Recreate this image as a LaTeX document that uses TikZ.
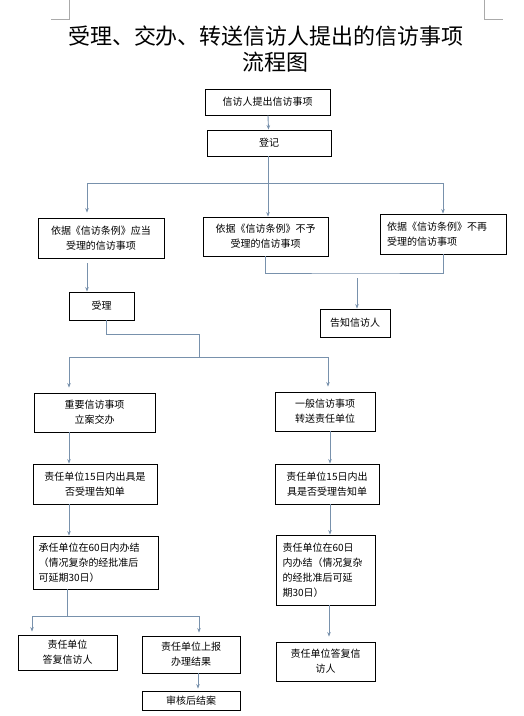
\documentclass[tikz,border=0pt]{standalone}
\usepackage{fontspec}
\usepackage{tikz}
\usetikzlibrary{arrows.meta,positioning}
\newfontfamily\cjk{Noto Sans CJK SC}
\definecolor{flowline}{RGB}{120,145,172}
\definecolor{cropgray}{RGB}{170,170,170}

\begin{document}
\begin{tikzpicture}[
    x=1pt, y=-1pt,
    box/.style={draw, line width=0.9pt, inner sep=2pt, font=\cjk\fontsize{10}{15}\selectfont, align=center},
    lbox/.style={box, align=left},
    link/.style={draw=flowline, line width=0.9pt},
    arr/.style={link, -{Stealth[length=4.5pt,width=3.6pt]}},
    heading/.style={font=\cjk\fontsize{22}{27}\selectfont},
]
    \useasboundingbox (0,0) rectangle (523,716);

    % Page corner marks
    \draw[cropgray, line width=0.7pt] (51,19) -- (69,19) -- (69,0);
    \draw[cropgray, line width=0.7pt] (484,0) -- (484,19) -- (503,19);

    % Title
    \node[heading] (title) at (266,36) {受理、交办、转送信访人提出的信访事项};
    \node[heading] (subtitle) at (275.5,62) {流程图};

    % Top boxes
    \node[box, minimum width=125pt, minimum height=26pt] (submit) at (267.5,102) {信访人提出信访事项};
    \node[box, minimum width=124pt, minimum height=26pt] (register) at (269,143) {登记};

    % Three kinds of matters
    \node[box, minimum width=126pt, minimum height=40pt] (accept) at (101,238)
        {依据《信访条例》应当\\受理的信访事项};
    \node[box, minimum width=125pt, minimum height=39pt] (refuse) at (265.5,236.5)
        {依据《信访条例》不予\\受理的信访事项};
    \node[lbox, minimum width=126pt, minimum height=40pt, text width=112pt] (norepeat) at (443,234)
        {依据《信访条例》不再\\受理的信访事项};

    \node[box, minimum width=65pt, minimum height=28pt] (handle) at (101.5,306) {受理};
    \node[box, minimum width=70pt, minimum height=28pt] (inform) at (355,323) {告知信访人};

    % Left branch
    \node[box, minimum width=121pt, minimum height=39pt] (major) at (94.5,412.5)
        {重要信访事项\\立案交办};
    \node[box, minimum width=124pt, minimum height=40pt] (lnotice) at (95,484)
        {责任单位15日内出具是\\否受理告知单};
    \node[lbox, minimum width=125pt, minimum height=53pt, text width=114pt] (ldone) at (95.5,562.5)
        {承任单位在60日内办结\\（情况复杂的经批准后\\可延期30日）};
    \node[box, minimum width=99pt, minimum height=35pt] (lreply) at (67.5,652.5)
        {责任单位\\答复信访人};
    \node[box, minimum width=98pt, minimum height=37pt] (lreport) at (191,654.5)
        {责任单位上报\\办理结果};
    \node[box, minimum width=98pt, minimum height=19pt] (lclose) at (191,700.5) {审核后结案};

    % Right branch
    \node[box, minimum width=100pt, minimum height=39pt] (normal) at (325,411.5)
        {一般信访事项\\转送责任单位};
    \node[box, minimum width=104pt, minimum height=40pt] (rnotice) at (327,484)
        {责任单位15日内出\\具是否受理告知单};
    \node[lbox, minimum width=99pt, minimum height=70pt, text width=86pt] (rdone) at (325.5,570)
        {责任单位在60日\\内办结（情况复杂\\的经批准后可延\\期30日）};
    \node[box, minimum width=99pt, minimum height=39pt] (rreply) at (325.5,661.5)
        {责任单位答复信\\访人};

    % Junction points
    \coordinate (split) at (268,183);
    \coordinate (joinbc) at (357,273);
    \coordinate (bend) at (199,334);
    \coordinate (fork) at (199,357);
    \coordinate (lfork) at (67,616);

    % Connectors
    \draw[arr] (submit) -- (register);
    \draw[link] (register.south -| split) -- (split);
    \draw[arr, shorten >=5pt] (split) -| ([xshift=-14pt]accept.north);
    \draw[arr] (split) -- (refuse.north -| split);
    \draw[arr] (split) -| (norepeat.north);

    \draw[arr, shorten <=5pt] ([xshift=-14pt]accept.south) -- ([xshift=-14.5pt]handle.north);
    \draw[link] (refuse.south) |- (joinbc) -| (norepeat.south);
    \draw[arr] ([yshift=-5pt]joinbc) -- (joinbc |- inform.north);

    \draw[link] ([xshift=4.5pt]handle.south) |- (bend) -- (fork);
    \draw[arr, shorten >=5pt] (fork) -| ([xshift=-25.5pt]major.north);
    \draw[arr, shorten >=5pt] (fork) -| ([xshift=3pt]normal.north);

    \draw[arr] ([xshift=-25.5pt]major.south) -- ([xshift=-26pt]lnotice.north);
    \draw[arr] ([xshift=-26pt]lnotice.south) -- ([xshift=-26.5pt]ldone.north);
    \draw[link] ([xshift=-28.5pt]ldone.south) -- (lfork);
    \draw[arr, shorten >=3pt] (lfork) -| ([xshift=-35.5pt]lreply.north);
    \draw[arr, shorten >=3pt] (lfork) -| ([xshift=8pt]lreport.north);
    \draw[arr, shorten >=2pt] ([xshift=7pt]lreport.south) -- ([xshift=7pt]lclose.north);

    \draw[arr] ([xshift=5pt]normal.south) -- ([xshift=3pt]rnotice.north);
    \draw[arr] ([xshift=3pt]rnotice.south) -- ([xshift=4.5pt]rdone.north);
    \draw[arr, shorten >=5pt] ([xshift=3.5pt]rdone.south) -- ([xshift=3.5pt]rreply.north);
\end{tikzpicture}
\end{document}
